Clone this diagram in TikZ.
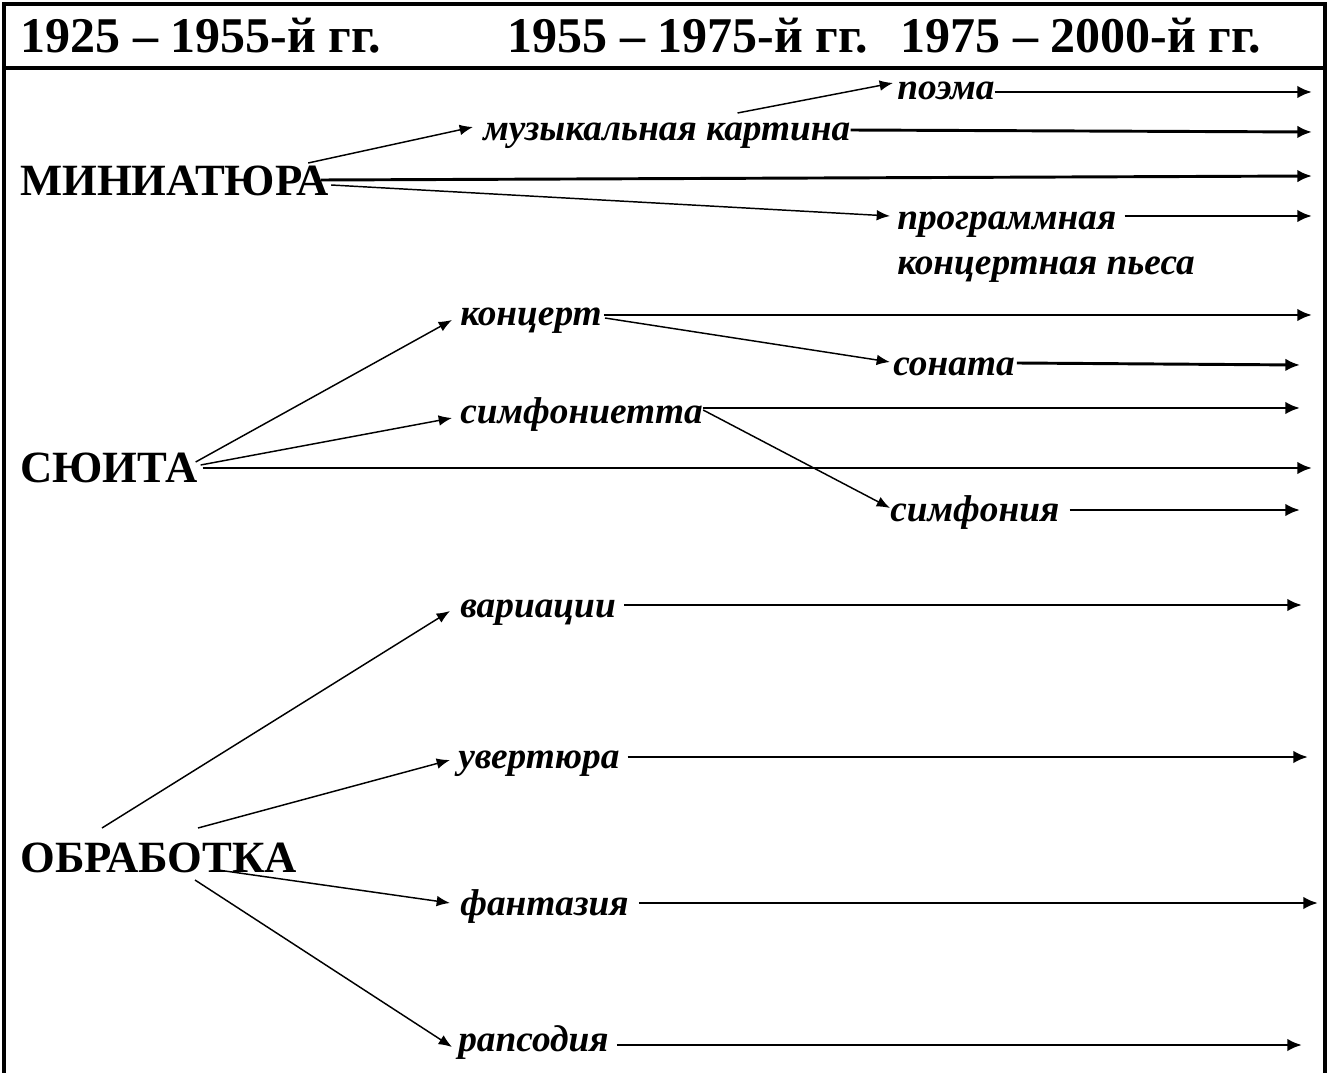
\documentclass[tikz,border=0pt]{standalone}
\usepackage{fontspec}
\setmainfont{Liberation Serif}
\usetikzlibrary{arrows.meta,calc}

\begin{document}
\begin{tikzpicture}[x=0.75pt, y=-0.75pt,
year/.style={font=\fontsize{37.5}{38}\selectfont\bfseries, inner sep=0pt, anchor=base},
form/.style={font=\fontsize{33.5}{34}\selectfont\bfseries, inner sep=0pt, anchor=base west},
genre/.style={font=\fontsize{28}{30}\selectfont\bfseries\itshape, inner sep=0pt, anchor=base west},
goes/.style={line width=2.2pt, -{Latex[length=11pt,width=9.5pt]}},
turns/.style={line width=1.1pt, -{Latex[length=10pt,width=8pt]}}]
\useasboundingbox (0,0) rectangle (1329,1073);
% frame and header row
\draw[line width=2.4pt] (4,1076) -- (4,4) -- (1325,4) -- (1325,1076);
\draw[line width=2.4pt] (4,68) -- (1325,68);
\node[year] (y1) at (201,53) {1925 – 1955-й гг.};
\node[year] (y2) at (688,53) {1955 – 1975-й гг.};
\node[year] (y3) at (1081,53) {1975 – 2000-й гг.};

\node[form] (mini) at (20,196) {МИНИАТЮРА};
\node[form] (suita) at (20,482) {СЮИТА};
\node[form] (obr) at (20,872) {ОБРАБОТКА};

\node[genre] (muz) at (483,141) {музыкальная картина};
\node[genre] (poema) at (897,100) {поэма};
\node[genre] (prog) at (897,230) {программная};
\node[genre] (prog2) at (897,275) {концертная пьеса};
\node[genre] (konc) at (460,326) {концерт};
\node[genre] (sonata) at (893,376) {соната};
\node[genre] (simfta) at (460,423) {симфониетта};
\node[genre] (simf) at (890,521) {симфония};
\node[genre] (var) at (460,617) {вариации};
\node[genre] (uv) at (458,768) {увертюра};
\node[genre] (fant) at (460,915) {фантазия};
\node[genre] (raps) at (458,1051) {рапсодия};

% lines to the right border
\foreach \n/\dx/\dy/\ex/\ey in {poema/0/8/1312/92, muz/0/11/1312/132, mini/-8/16/1312/176,
  prog/8/14/1312/216, konc/2/11/1312/315, sonata/2/13/1300/365, simfta/0/15/1300/408,
  suita/5/14/1312/468, simf/10/11/1300/510, var/8/12/1302/605, uv/8/11/1308/757,
  fant/10/12/1318/903, raps/8/6/1302/1045}{
  \coordinate (\n-end) at (\ex,\ey);
  \draw[goes] ($(\n.base east)+(\dx,-\dy)$) -- (\n-end);
}

\draw[turns] ($(mini.base east)+(-21,-33)$) -- ($(muz.base west)+(-10,-14)$);
\draw[turns] ($(muz.base east)+(-113,-28)$) -- ($(poema.base west)+(-4,-17)$);
\draw[turns] ($(mini.base east)+(2,-11)$) -- ($(prog.base west)+(-7,-14)$);
\draw[turns] ($(konc.base east)+(3,-8)$) -- ($(sonata.base west)+(-3,-14)$);
\draw[turns] ($(simfta.base east)+(0,-13)$) -- ($(simf.base west)+(0,-13)$);
\draw[turns] ($(suita.base east)+(-2,-20)$) -- ($(konc.base west)+(-8,-6)$);
\draw[turns] ($(suita.base east)+(3,-17)$) -- ($(simfta.base west)+(-8,-5)$);
\draw[turns] ($(obr.base west)+(82,-44)$) -- ($(var.base west)+(-10,-6)$);
\draw[turns] ($(obr.base west)+(178,-44)$) -- ($(uv.base west)+(-8,-8)$);
\draw[turns] ($(obr.base west)+(198,-2)$) -- ($(fant.base west)+(-10,-12)$);
\draw[turns] ($(obr.base west)+(175,8)$) -- ($(raps.base west)+(-6,-4)$);
\end{tikzpicture}
\end{document}
